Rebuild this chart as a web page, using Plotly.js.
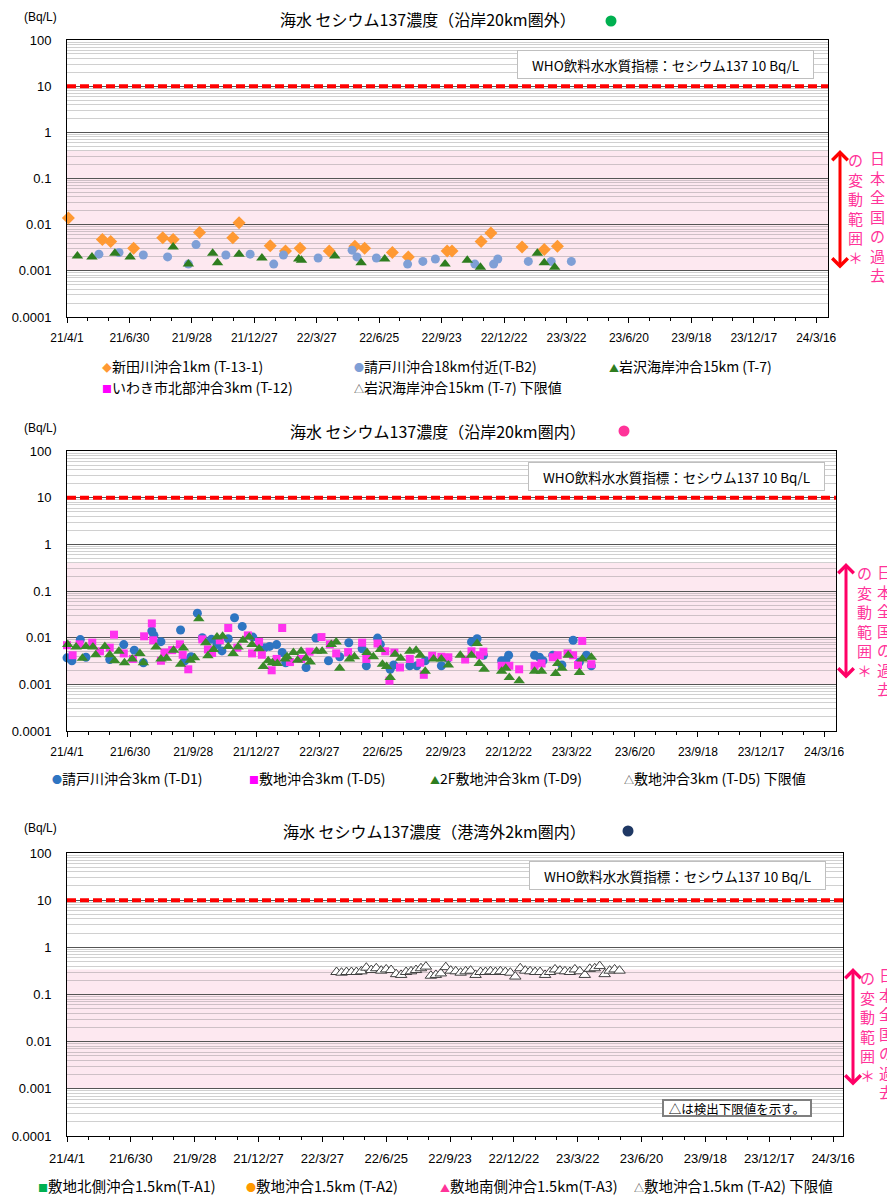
<!DOCTYPE html>
<html><head><meta charset="utf-8">
<script src="https://cdn.plot.ly/plotly-3.0.1.min.js"></script>
<style>body{margin:0;background:#fff}#c{width:887px;height:1195px}</style>
</head><body><div id="c"></div>
<script>
// ---------- tick labels ----------
const xTickDates = ['2021-04-01','2021-06-30','2021-09-28','2021-12-27','2022-03-27','2022-06-25','2022-09-23','2022-12-22','2023-03-22','2023-06-20','2023-09-18','2023-12-17','2024-03-16'];
const xTickLabels = ['21/4/1','21/6/30','21/9/28','21/12/27','22/3/27','22/6/25','22/9/23','22/12/22','23/3/22','23/6/20','23/9/18','23/12/17','24/3/16'];
const yTickVals = [0.0001,0.001,0.01,0.1,1,10,100];
const yTickText = ['0.0001','0.001','0.01','0.1','1','10','100'];
const whoLimit = 10;
const band1 = [0.001, 0.4];
const band2 = [0.001, 0.4];
const band3 = [0.001, 0.34];

// ---------- chart 1 : 沿岸20km圏外 ----------
const t13Dates = ['2021-04-03','2021-05-22','2021-06-03','2021-07-06','2021-08-17','2021-09-01','2021-10-09','2021-11-26','2021-12-05','2022-01-19','2022-02-10','2022-03-03','2022-04-14','2022-05-21','2022-06-04','2022-07-14','2022-08-06','2022-10-01','2022-10-08','2022-11-19','2022-12-03','2023-01-17','2023-02-18','2023-03-09'];
const t13Vals = [0.014,0.0048,0.0043,0.0031,0.0052,0.0048,0.0068,0.0052,0.011,0.0035,0.0027,0.0031,0.0027,0.0034,0.0031,0.0025,0.0020,0.0027,0.0027,0.0043,0.0066,0.0033,0.0029,0.0034];
const tb2Dates = ['2021-05-17','2021-06-15','2021-07-20','2021-08-24','2021-09-23','2021-10-04','2021-11-16','2021-12-21','2022-01-24','2022-02-07','2022-03-29','2022-05-17','2022-05-24','2022-06-21','2022-08-05','2022-08-27','2022-09-14','2022-11-10','2022-12-07','2022-12-13','2023-01-26','2023-02-28','2023-03-29'];
const tb2Vals = [0.0023,0.0025,0.0022,0.0020,0.0014,0.0037,0.0022,0.0023,0.0014,0.0022,0.0019,0.0028,0.0020,0.0019,0.0014,0.0016,0.0018,0.0014,0.0014,0.0018,0.0016,0.0016,0.0016];
const t7Dates = ['2021-04-16','2021-05-07','2021-06-09','2021-07-01','2021-09-01','2021-09-23','2021-10-28','2021-11-04','2021-12-05','2022-01-07','2022-03-01','2022-03-05','2022-04-22','2022-05-30','2022-07-03','2022-09-28','2022-10-30','2022-11-18','2023-02-08','2023-02-18','2023-03-05'];
const t7Vals = [0.0021,0.0020,0.0024,0.0020,0.0033,0.0014,0.0024,0.0015,0.0023,0.0019,0.0018,0.0017,0.0021,0.0015,0.0018,0.0014,0.0017,0.0012,0.0024,0.0015,0.0012];

// ---------- chart 2 : 沿岸20km圏内 ----------
const d1Dates = ['2021-04-01','2021-04-08','2021-04-20','2021-04-28','2021-06-01','2021-06-21','2021-07-06','2021-07-19','2021-07-31','2021-08-03','2021-08-13','2021-09-10','2021-09-16','2021-09-25','2021-10-04','2021-10-11','2021-10-24','2021-11-01','2021-11-08','2021-11-17','2021-11-26','2021-12-07','2021-12-22','2022-01-08','2022-01-15','2022-01-25','2022-02-02','2022-02-07','2022-03-08','2022-03-22','2022-04-09','2022-04-25','2022-05-08','2022-05-27','2022-06-02','2022-06-18','2022-06-22','2022-07-06','2022-07-11','2022-08-03','2022-08-13','2022-08-25','2022-09-17','2022-09-26','2022-10-30','2022-11-07','2022-11-16','2022-12-12','2022-12-18','2022-12-22','2023-01-28','2023-02-04','2023-02-09','2023-02-23','2023-03-08','2023-03-24','2023-04-02','2023-04-12','2023-04-19'];
const d1Vals = [0.0037,0.0032,0.0091,0.0038,0.0034,0.0071,0.0054,0.0029,0.0139,0.0112,0.0082,0.0146,0.0032,0.0039,0.0335,0.0100,0.0092,0.0071,0.0052,0.0095,0.0267,0.0174,0.0103,0.0061,0.0065,0.0071,0.0048,0.0029,0.0023,0.0098,0.0032,0.0039,0.0078,0.0058,0.0025,0.0098,0.0072,0.0021,0.0026,0.0025,0.0025,0.0032,0.0025,0.0036,0.0081,0.0095,0.0042,0.0032,0.0033,0.0042,0.0042,0.0038,0.0032,0.0042,0.0026,0.0088,0.0030,0.0042,0.0025];
const d5Dates = ['2021-04-01','2021-04-09','2021-04-19','2021-05-07','2021-05-18','2021-06-01','2021-06-07','2021-06-21','2021-07-04','2021-07-20','2021-07-31','2021-08-02','2021-08-13','2021-08-18','2021-08-29','2021-09-09','2021-09-13','2021-09-21','2021-10-11','2021-10-19','2021-10-25','2021-11-05','2021-11-17','2021-11-30','2021-12-15','2021-12-21','2021-12-31','2022-01-04','2022-01-18','2022-01-25','2022-02-02','2022-02-13','2022-03-01','2022-03-13','2022-03-30','2022-04-11','2022-04-20','2022-05-07','2022-05-27','2022-06-02','2022-06-18','2022-06-29','2022-07-05','2022-07-12','2022-07-20','2022-08-03','2022-08-18','2022-08-23','2022-09-04','2022-09-17','2022-09-27','2022-10-21','2022-10-30','2022-11-11','2022-11-16','2022-12-12','2022-12-23','2023-01-06','2023-01-28','2023-02-07','2023-02-23','2023-03-02','2023-03-16','2023-03-24','2023-03-31','2023-04-06','2023-04-19'];
const d5Vals = [0.0069,0.0042,0.0072,0.0078,0.0051,0.0061,0.0116,0.0046,0.0035,0.0107,0.0202,0.0088,0.0032,0.0048,0.0054,0.0072,0.0043,0.0021,0.0092,0.0056,0.0047,0.0088,0.0161,0.0061,0.0112,0.0046,0.0081,0.0043,0.0020,0.0035,0.0161,0.0030,0.0035,0.0050,0.0103,0.0072,0.0046,0.0049,0.0078,0.0035,0.0075,0.0051,0.0012,0.0048,0.0023,0.0035,0.0029,0.0016,0.0041,0.0039,0.0038,0.0034,0.0051,0.0042,0.0050,0.0025,0.0025,0.0021,0.0025,0.0028,0.0038,0.0042,0.0046,0.0042,0.0026,0.0085,0.0027];
const d9Dates = ['2021-04-02','2021-04-14','2021-04-23','2021-04-28','2021-05-08','2021-05-12','2021-05-25','2021-06-01','2021-06-08','2021-06-14','2021-06-22','2021-07-03','2021-07-14','2021-07-19','2021-08-06','2021-08-13','2021-08-21','2021-08-31','2021-09-10','2021-09-14','2021-09-24','2021-09-30','2021-10-06','2021-10-16','2021-10-19','2021-10-27','2021-11-01','2021-11-09','2021-11-17','2021-11-24','2021-12-01','2021-12-08','2021-12-17','2021-12-21','2021-12-31','2022-01-06','2022-01-13','2022-01-19','2022-01-26','2022-02-06','2022-02-09','2022-02-18','2022-02-24','2022-03-01','2022-03-08','2022-03-14','2022-03-23','2022-03-31','2022-04-13','2022-04-20','2022-04-25','2022-05-09','2022-05-16','2022-06-03','2022-06-12','2022-06-22','2022-06-25','2022-07-01','2022-07-06','2022-07-13','2022-07-21','2022-08-03','2022-08-12','2022-08-18','2022-08-25','2022-09-06','2022-09-17','2022-09-27','2022-10-14','2022-10-30','2022-11-07','2022-11-10','2022-11-17','2022-12-12','2022-12-18','2022-12-23','2023-01-06','2023-01-28','2023-02-07','2023-02-27','2023-03-02','2023-03-08','2023-03-17','2023-04-02','2023-04-06','2023-04-19'];
const d9Vals = [0.0071,0.0063,0.0036,0.0065,0.0063,0.0043,0.0065,0.0043,0.0032,0.0051,0.0029,0.0035,0.0046,0.0029,0.0063,0.0035,0.0036,0.0054,0.0027,0.0060,0.0033,0.0037,0.0254,0.0078,0.0041,0.0056,0.0103,0.0107,0.0065,0.0046,0.0063,0.0088,0.0103,0.0071,0.0058,0.0024,0.0032,0.0029,0.0028,0.0035,0.0039,0.0048,0.0033,0.0051,0.0036,0.0030,0.0051,0.0051,0.0071,0.0081,0.0022,0.0035,0.0039,0.0048,0.0039,0.0056,0.0027,0.0024,0.0014,0.0044,0.0036,0.0051,0.0054,0.0042,0.0019,0.0035,0.0035,0.0026,0.0042,0.0042,0.0075,0.0028,0.0021,0.0019,0.0022,0.0014,0.0012,0.0019,0.0019,0.0017,0.0028,0.0022,0.0042,0.0018,0.0035,0.0038];

// ---------- chart 3 : 港湾外2km圏内 (T-A2 下限値) ----------
const a2LimDates = ['2022-04-16','2022-04-23','2022-04-30','2022-05-07','2022-05-14','2022-05-21','2022-05-28','2022-06-04','2022-06-11','2022-06-18','2022-06-25','2022-07-02','2022-07-09','2022-07-16','2022-07-23','2022-07-30','2022-08-06','2022-08-13','2022-08-20','2022-08-27','2022-09-03','2022-09-10','2022-09-17','2022-09-24','2022-10-01','2022-10-08','2022-10-15','2022-10-22','2022-10-29','2022-11-05','2022-11-12','2022-11-19','2022-11-26','2022-12-03','2022-12-10','2022-12-17','2022-12-24','2022-12-31','2023-01-07','2023-01-14','2023-01-21','2023-01-28','2023-02-04','2023-02-11','2023-02-18','2023-02-25','2023-03-04','2023-03-11','2023-03-18','2023-03-25','2023-04-01','2023-04-08','2023-04-15','2023-04-22','2023-04-29','2023-05-06','2023-05-13','2023-05-20'];
const a2LimVals = [0.30,0.29,0.30,0.30,0.30,0.31,0.37,0.33,0.36,0.32,0.34,0.33,0.27,0.26,0.30,0.31,0.33,0.36,0.39,0.25,0.26,0.28,0.38,0.32,0.31,0.29,0.31,0.32,0.26,0.30,0.30,0.31,0.30,0.31,0.30,0.29,0.24,0.36,0.32,0.31,0.30,0.30,0.26,0.30,0.34,0.32,0.31,0.30,0.34,0.31,0.26,0.35,0.36,0.40,0.27,0.32,0.34,0.32];

// ---------- helpers ----------
const W = 887, H = 1195;
const PX = x => x / W, PY = y => 1 - y / H;
const CJK = '"Noto Sans CJK JP", "Noto Sans", sans-serif';
const NUM = '"Liberation Sans", Arial, sans-serif';

function addDays(s, n) {
  const d = new Date(s + 'T00:00:00Z'); d.setUTCDate(d.getUTCDate() + n);
  return d.toISOString().slice(0, 10);
}
const xMinor = [];
xTickDates.forEach(d => { xMinor.push(addDays(d, 30)); xMinor.push(addDays(d, 60)); });
const yMinor = [];
for (let e = -4; e < 2; e++) for (let k = 2; k <= 9; k++) yMinor.push(k * Math.pow(10, e));

function xAxis(domain, anchor, end, fsize) {
  return {
    type: 'date', domain: domain, anchor: anchor, range: ['2021-04-01', end],
    tickmode: 'array', tickvals: xTickDates, ticktext: xTickLabels,
    ticks: 'outside', ticklen: 5, tickcolor: '#000', ticklabelstandoff: 5,
    showgrid: false, zeroline: false, showline: true, linecolor: '#000', linewidth: 1, mirror: true,
    tickfont: { family: NUM, size: fsize, color: '#000' },
    minor: { tickmode: 'array', tickvals: xMinor, ticks: 'outside', ticklen: 3, tickcolor: '#000', showgrid: false }
  };
}
function yAxis(domain, anchor) {
  return {
    type: 'log', domain: domain, anchor: anchor, range: [-4, 2],
    tickmode: 'array', tickvals: yTickVals, ticktext: yTickText, ticks: '',
    ticklabelstandoff: 12,
    showgrid: true, gridcolor: '#555', gridwidth: 1, zeroline: false,
    showline: true, linecolor: '#000', linewidth: 1, mirror: true,
    tickfont: { family: NUM, size: 13, color: '#000' },
    minor: { tickmode: 'array', tickvals: yMinor, ticks: '', showgrid: true, gridcolor: 'rgba(110,110,110,0.32)', gridwidth: 1 }
  };
}

function pts(xs, ys, xa, ya, sym, color, size, line) {
  return { type: 'scatter', mode: 'markers', x: xs, y: ys, xaxis: xa, yaxis: ya, cliponaxis: false,
    marker: { symbol: sym, color: color, size: size, line: line || { width: 0 } }, showlegend: false, hoverinfo: 'skip' };
}

const data = [
  pts(t13Dates, t13Vals, 'x', 'y', 'diamond', '#ff9933', 10),
  pts(tb2Dates, tb2Vals, 'x', 'y', 'circle', '#7f9fd6', 9),
  pts(t7Dates, t7Vals, 'x', 'y', 'triangle-up', '#2e7d1f', 10),
  pts(d1Dates, d1Vals, 'x2', 'y2', 'circle', '#2e75c2', 9),
  pts(d5Dates, d5Vals, 'x2', 'y2', 'square', '#ff33ee', 8),
  pts(d9Dates, d9Vals, 'x2', 'y2', 'triangle-up', '#3a8a2a', 10),
  pts(a2LimDates, a2LimVals, 'x3', 'y3', 'triangle-up', '#ffffff', 10, { color: '#404040', width: 1 })
];

function band(xref, yref, r) {
  return { type: 'rect', xref: xref + ' domain', yref: yref, x0: 0, x1: 1, y0: r[0], y1: r[1],
    fillcolor: '#fde8f0', line: { width: 0 }, layer: 'below' };
}
function who(xref, yref) {
  return { type: 'line', xref: xref + ' domain', yref: yref, x0: 0, x1: 1, y0: whoLimit, y1: whoLimit,
    line: { color: '#ff0000', width: 4, dash: '9px,4px' }, layer: 'above' };
}
function dot(cx, cy, r, color) {
  return { type: 'circle', xref: 'paper', yref: 'paper', x0: PX(cx - r), x1: PX(cx + r), y0: PY(cy + r), y1: PY(cy - r),
    fillcolor: color, line: { width: 0 } };
}
const shapes = [
  band('x', 'y', band1), band('x2', 'y2', band2), band('x3', 'y3', band3),
  who('x', 'y'), who('x2', 'y2'), who('x3', 'y3'),
  dot(611, 21, 5.5, '#00b050'), dot(624, 431, 5.5, '#ff3399'), dot(628, 831, 5.5, '#1f3864')
];

function ann(text, x, y, o) {
  return Object.assign({ text: text, x: PX(x), y: PY(y), xref: 'paper', yref: 'paper', showarrow: false,
    xanchor: 'center', yanchor: 'middle', font: { family: CJK, size: 13, color: '#000' } }, o || {});
}
// vertical text column: one annotation, one character per line, top anchored
function vcol(str, x, yTop, color) {
  return ann([...str].join('<br>'), x, yTop, { yanchor: 'top', font: { family: CJK, size: 15, color: color } });
}
function arrow(x, yTop, yBot, color) {
  return { text: '', x: PX(x), y: PY(yTop), xref: 'paper', yref: 'paper', ax: 0, ay: yBot - yTop,
    axref: 'pixel', ayref: 'pixel', showarrow: true, arrowside: 'end+start', arrowhead: 4, startarrowhead: 4,
    arrowsize: 1, startarrowsize: 1, arrowwidth: 3, arrowcolor: color, standoff: 0, startstandoff: 0 };
}
function whoBox(cx, cy) {
  return ann('WHO飲料水水質指標：セシウム137 10 Bq/L', cx, cy, { bgcolor: '#fff', bordercolor: '#bfbfbf', borderwidth: 1,
    borderpad: 1, width: 293, height: 25, font: { family: CJK, size: 13.5, color: '#000' } });
}
const sp = (c, g) => `<span style="color:${c};font-size:10px">${g}</span>`;
const LF = { family: CJK, size: 14, color: '#000' };
const LF3 = { family: CJK, size: 14.5, color: '#000' };

const annotations = [
  ann('海水 セシウム137濃度（沿岸20km圏外）', 428, 19, { font: { family: CJK, size: 16, color: '#000' } }),
  ann('海水 セシウム137濃度（沿岸20km圏内）', 438, 431, { font: { family: CJK, size: 16, color: '#000' } }),
  ann('海水 セシウム137濃度（港湾外2km圏内）', 434, 831, { font: { family: CJK, size: 16, color: '#000' } }),
  ann('(Bq/L)', 40, 17, { font: { family: NUM, size: 12, color: '#000' } }),
  ann('(Bq/L)', 40, 428, { font: { family: NUM, size: 12, color: '#000' } }),
  ann('(Bq/L)', 40, 828, { font: { family: NUM, size: 12, color: '#000' } }),
  whoBox(665, 65), whoBox(676, 476), whoBox(677, 875),
  arrow(840, 150, 270, '#ff0000'), arrow(846, 563, 680, '#ff0066'), arrow(853, 968, 1087, '#ff0066'),
  vcol('の変動範囲＊', 855, 147, '#ff3399'), vcol('日本全国の過去', 877, 145, '#ff3399'),
  vcol('の変動範囲＊', 864, 560, '#ff3399'), vcol('日本全国の過去', 884, 559, '#ff3399'),
  vcol('の変動範囲＊', 867, 965, '#ff3399'), vcol('日本全国の過去', 886, 962, '#ff3399'),
  // legends chart 1
  ann(sp('#ff9933', '◆') + '新田川沖合1km (T-13-1)', 100, 366, { xanchor: 'left', font: LF }),
  ann(sp('#7f9fd6', '●') + '請戸川沖合18km付近(T-B2)', 352, 366, { xanchor: 'left', font: LF }),
  ann(sp('#2e7d1f', '▲') + '岩沢海岸沖合15km (T-7)', 607, 366, { xanchor: 'left', font: LF }),
  ann(sp('#ff00ff', '■') + 'いわき市北部沖合3km (T-12)', 100, 387, { xanchor: 'left', font: LF }),
  ann(sp('#404040', '△') + '岩沢海岸沖合15km (T-7) 下限値', 352, 387, { xanchor: 'left', font: LF }),
  // legends chart 2
  ann(sp('#2e75c2', '●') + '請戸川沖合3km (T-D1)', 50, 778, { xanchor: 'left', font: LF }),
  ann(sp('#ff00ff', '■') + '敷地沖合3km (T-D5)', 247, 778, { xanchor: 'left', font: LF }),
  ann(sp('#2e7d1f', '▲') + '2F敷地沖合3km (T-D9)', 428, 778, { xanchor: 'left', font: LF }),
  ann(sp('#404040', '△') + '敷地沖合3km (T-D5) 下限値', 622, 778, { xanchor: 'left', font: LF }),
  // legends chart 3
  ann(sp('#00b050', '■') + '敷地北側沖合1.5km(T-A1)', 36, 1185, { xanchor: 'left', font: LF3 }),
  ann(sp('#ff9900', '●') + '敷地沖合1.5km (T-A2)', 244, 1185, { xanchor: 'left', font: LF3 }),
  ann(sp('#ff3399', '▲') + '敷地南側沖合1.5km(T-A3)', 438, 1185, { xanchor: 'left', font: LF3 }),
  ann(sp('#404040', '△') + '敷地沖合1.5km (T-A2) 下限値', 632, 1185, { xanchor: 'left', font: LF3 }),
  ann('△は検出下限値を示す。', 737, 1108, { bgcolor: '#fff', bordercolor: '#7f7f7f', borderwidth: 2, borderpad: 0,
    width: 146, height: 14, font: { family: CJK, size: 12.5, color: '#000' } })
];

const layout = {
  width: W, height: H, margin: { l: 0, r: 0, t: 0, b: 0 }, showlegend: false,
  paper_bgcolor: '#fff', plot_bgcolor: 'rgba(0,0,0,0)', font: { color: '#000' },
  xaxis: xAxis([PX(67), PX(828)], 'y', '2024-04-02', 12),
  yaxis: yAxis([PY(317), PY(40)], 'x'),
  xaxis2: xAxis([PX(67), PX(836)], 'y2', '2024-04-02', 12),
  yaxis2: yAxis([PY(731), PY(451)], 'x2'),
  xaxis3: xAxis([PX(67), PX(843)], 'y3', '2024-03-30', 13),
  yaxis3: yAxis([PY(1136), PY(853)], 'x3'),
  shapes: shapes, annotations: annotations
};
Plotly.newPlot('c', data, layout, { displayModeBar: false, staticPlot: true });
</script>
</body></html>
